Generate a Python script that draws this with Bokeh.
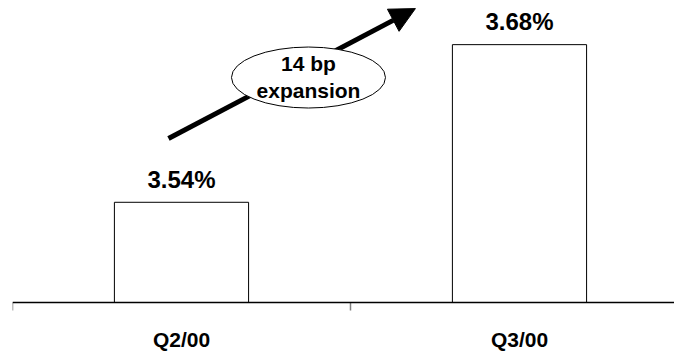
import math
from bokeh.plotting import figure
from bokeh.models import Range1d, ColumnDataSource, Arrow, NormalHead, Span
from bokeh.core.properties import value
from bokeh.embed import file_html
from bokeh.resources import INLINE

# Net interest margin by quarter
quarters = ["Q2/00", "Q3/00"]
margins = [3.54, 3.68]
labels = ["3.54%", "3.68%"]
callout = ["14 bp", "expansion"]

FONT = "Liberation Sans"
base = 3.451          # value at the category axis line
y_lo, y_hi = 3.4075, 3.7192

xs = [i + 0.5 for i in range(len(quarters))]
bounds = list(range(len(quarters) + 1))
src = ColumnDataSource(dict(x=xs, top=margins, label=labels, cat=quarters))

p = figure(width=674, height=351, output_backend="svg", toolbar_location=None,
           x_range=Range1d(0, 1.9586), y_range=Range1d(y_lo, y_hi),
           min_border_left=12, min_border_right=0, min_border_top=0,
           min_border_bottom=0, outline_line_color=None,
           x_axis_location=None, y_axis_location=None)
p.xgrid.visible = False
p.ygrid.visible = False
p.background_fill_color = "white"
p.border_fill_color = "white"

# Bars
p.vbar(x="x", top="top", bottom=base, width=0.397, source=src,
       fill_color="white", line_color="black", line_width=1)

# Value labels above bars
p.text(x="x", y="top", text="label", source=src, text_align="center",
       text_baseline="middle", y_offset=-23, text_font=value(FONT),
       text_font_style="bold", text_font_size="24px", text_color="black")

# Category axis: baseline, boundary ticks and category names
p.add_layout(Span(location=base, dimension="width", line_color="black",
                  line_width=1.5))
p.ray(x=bounds, y=[base] * len(bounds), length=8, length_units="screen",
      angle=-math.pi / 2, line_color="#808080", line_width=1.5)
p.text(x="x", y=base, text="cat", source=src, text_align="center",
       text_baseline="middle", y_offset=37, text_font=value(FONT),
       text_font_style="bold", text_font_size="21px", text_color="black")

# Expansion arrow from the Q2 bar toward the Q3 bar
arrow = Arrow(x_start=0.4615, y_start=3.5966, x_end=1.192, y_end=3.712,
              line_width=5, line_color="black",
              end=NormalHead(size=25, fill_color="black", line_color="black"))
arrow.level = "underlay"
p.add_layout(arrow)

# Callout bubble
cx, cy = 0.8757, 3.6508
p.ellipse(x=[cx], y=[cy], width=154, height=61, width_units="screen",
          height_units="screen", fill_color="white", line_color="black",
          line_width=1)
p.text(x=[cx, cx], y=[cy, cy], text=callout, y_offset=[-14, 13],
       text_align="center", text_baseline="middle", text_font=value(FONT),
       text_font_style="bold", text_font_size="21px", text_color="black")

open("out.html", "w").write(file_html(p, INLINE))
